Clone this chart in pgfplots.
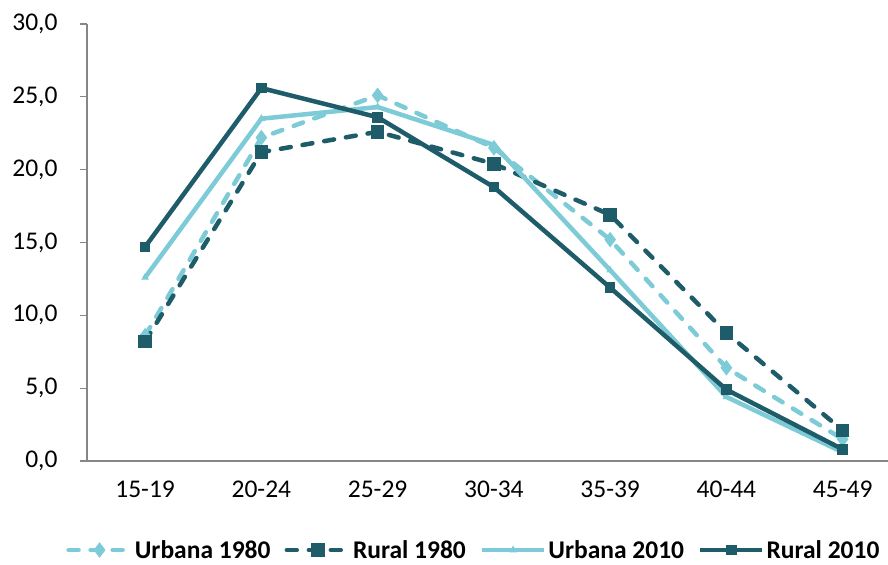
\documentclass[border=0pt]{standalone}
\usepackage{pgfplots}
\pgfplotsset{compat=1.18}
\usepackage{fontspec}
\setmainfont{Carlito}
\definecolor{darkteal}{HTML}{1F5C6A}
\definecolor{lightteal}{HTML}{7ECBD8}
\definecolor{axisgray}{HTML}{868686}
\begin{document}
\begin{tikzpicture}
\useasboundingbox (-87bp,-104bp) rectangle (801bp,461bp);
\begin{axis}[
  at={(0,0)}, anchor=south west,
  scale only axis,
  width=801bp, height=437bp,
  xmin=-0.5, xmax=6.39,
  ymin=0, ymax=30,
  axis x line*=bottom,
  axis y line*=left,
  axis line style={axisgray, line width=1.2bp, -},
  ytick={0,5,...,30},
  xtick={0,1,2,3,4,5,6},
  xticklabels={15-19,20-24,25-29,30-34,35-39,40-44,45-49},
  extra x ticks={-0.5,0.5,1.5,2.5,3.5,4.5,5.5},
  extra x tick labels={},
  extra x tick style={major tick length=8bp, tick align=outside, tick style={axisgray, line width=1.2bp}},
  x tick style={draw=none},
  y tick style={axisgray, line width=1.2bp},
  tick align=outside,
  major tick length=7bp,
  ticklabel style={font=\fontsize{25.5bp}{30bp}\selectfont, text=black},
  yticklabel style={xshift=-19bp},
  xticklabel style={yshift=-9.5bp},
  /pgf/number format/.cd, fixed, fixed zerofill, precision=1, use comma, assume math mode=true,
  /pgfplots/.cd,
  legend columns=4,
  legend style={at={(axis description cs:0.483,-0.172)}, anchor=north, draw=none,
    font=\bfseries\fontsize{25.5bp}{30bp}\selectfont,
    /tikz/every even column/.append style={column sep=12bp},
    /tikz/every odd column/.append style={column sep=0bp}},
  legend image code/.code={\draw[mark repeat=2, mark phase=2, #1] plot coordinates {(0bp,0bp) (31bp,0bp) (62bp,0bp)};},
]
\addplot[lightteal, line width=4.5bp, line cap=round, dash pattern=on 10bp off 12bp,
  mark=diamond*, mark size=7bp, mark options={solid, fill=lightteal, line width=1bp}]
  coordinates {(0,8.6) (1,22.2) (2,25.1) (3,21.5) (4,15.2) (5,6.4) (6,1.5)};
\addlegendentry{Urbana 1980}
\addplot[darkteal, line width=4.5bp, line cap=round, dash pattern=on 10bp off 12bp,
  mark=square*, mark size=6.3bp, mark options={solid, fill=darkteal, line width=1bp}]
  coordinates {(0,8.2) (1,21.2) (2,22.6) (3,20.4) (4,16.9) (5,8.8) (6,2.1)};
\addlegendentry{Rural 1980}
\addplot[lightteal, line width=4.5bp,
  mark=triangle*, mark size=3.5bp, mark options={solid, fill=lightteal, line width=1bp}]
  coordinates {(0,12.6) (1,23.5) (2,24.3) (3,21.7) (4,13.1) (5,4.4) (6,0.6)};
\addlegendentry{Urbana 2010}
\addplot[darkteal, line width=4.5bp,
  mark=square*, mark size=4.8bp, mark options={solid, fill=darkteal, line width=1bp}]
  coordinates {(0,14.7) (1,25.6) (2,23.6) (3,18.8) (4,11.9) (5,4.9) (6,0.8)};
\addlegendentry{Rural 2010}
\end{axis}
\end{tikzpicture}
\end{document}
